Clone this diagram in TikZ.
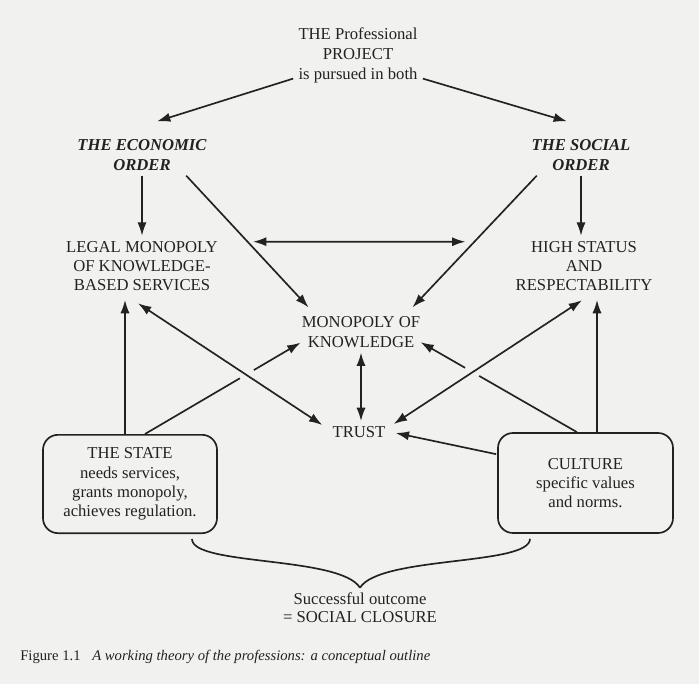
\documentclass[tikz,border=0pt]{standalone}
\usepackage{fontspec}
\setmainfont{Liberation Serif}
\usetikzlibrary{arrows.meta, positioning, calc}
\definecolor{pagegray}{RGB}{241, 241, 239}
\definecolor{inkgray}{RGB}{34, 34, 34}

\begin{document}
\begin{tikzpicture}[x=0.6pt, y=-0.6pt,
  lbl/.style={align=center, inner sep=3pt, text=inkgray, font=\fontsize{10}{11.6}\selectfont},
  orderlbl/.style={lbl, font=\fontsize{10}{11.6}\selectfont\bfseries\itshape},
  actorbox/.style={draw=inkgray, line width=1pt, rounded corners=9pt, align=center, inner sep=2pt, text=inkgray, font=\fontsize{10}{11.6}\selectfont},
  link/.style={draw=inkgray, line width=1pt},
  arr/.style={link, -{Latex[length=8pt,width=5.5pt]}},
  dbl/.style={link, {Latex[length=8pt,width=5.5pt]}-{Latex[length=8pt,width=5.5pt]}}
]
  \fill[pagegray] (0,0) rectangle (699,684);
  \useasboundingbox (0,0) rectangle (699,684);

  % top
  \node[lbl, font=\fontsize{10}{12}\selectfont] (project) at (358,55) {THE Professional\\PROJECT\\is pursued in both};
  \node[orderlbl] (econ) at (142,155) {THE ECONOMIC\\ORDER};
  \node[orderlbl] (social) at (581,155) {THE SOCIAL\\ORDER};

  % middle
  \node[lbl] (legal) at (142,266) {LEGAL MONOPOLY\\OF KNOWLEDGE-\\BASED SERVICES};
  \node[lbl] (status) at (584,266) {HIGH STATUS\\AND\\RESPECTABILITY};
  \node[lbl] (mok) at (361,332) {MONOPOLY OF\\KNOWLEDGE};
  \node[lbl] (trust) at (359,432) {TRUST};

  % boxes
  \node[actorbox, minimum width=104.4pt, minimum height=59pt] (state) at (130,484) {THE STATE\\needs services,\\grants monopoly,\\achieves regulation.};
  \node[actorbox, minimum width=105pt, minimum height=60pt] (culture) at (585.5,483) {CULTURE\\specific values\\and norms.};

  % bottom
  \node[lbl, font=\fontsize{10}{10.8}\selectfont] (outcome) at (360,608) {Successful outcome\\= SOCIAL CLOSURE};
  \node[anchor=base west, inner sep=0pt, text=inkgray, font=\fontsize{8.8}{11}\selectfont] (caption) at (20,660)
    {Figure 1.1\hspace{7pt}\textit{A working theory of the professions: a conceptual outline}};

  % project -> orders
  \draw[arr] (project.200) -- ([shift={(15,-13)}]econ.north);
  \draw[arr] (project.-20) -- ([shift={(-14,-13)}]social.north);

  % orders -> middle
  \draw[arr] (econ) -- (legal);
  \draw[arr] (social.south) -- (social.south |- status.north);
  \draw[arr] (econ.-25) -- ([shift={(12,-4)}]mok.north west);
  \draw[arr] (social.-155) -- ([shift={(-13,-4)}]mok.north east);

  % two-way links
  \draw[dbl] ([shift={(30,6)}]legal.north east) -- ([shift={(-45,6)}]status.north west);
  \draw[dbl] (mok.south) -- (mok.south |- trust.north);
  \draw[dbl] ([shift={(-4,7)}]legal.south) -- ([shift={(-5,-7)}]trust.west);
  \draw[dbl] ([shift={(3,-8)}]trust.east) -- ([shift={(-2,4)}]status.south);

  % the state
  \coordinate (sl) at ([shift={(-5,0)}]state.north);
  \draw[arr, shorten >=2.2pt] (sl) -- (sl |- legal.south);
  \coordinate (sm) at ([shift={(15,0)}]state.north);
  \coordinate (ms) at ([shift={(4,-10)}]mok.south west);
  \draw[link] (sm) -- ($(sm)!0.61!(ms)$);
  \draw[arr] ($(sm)!0.70!(ms)$) -- (ms);

  % culture
  \coordinate (cs) at ([shift={(11.5,0)}]culture.north);
  \draw[arr, shorten >=2.2pt] (cs) -- (cs |- status.south);
  \coordinate (cm) at ([shift={(-8.5,0)}]culture.north);
  \coordinate (mc) at ([shift={(-5,-10.5)}]mok.south east);
  \draw[link] (cm) -- ($(cm)!0.625!(mc)$);
  \draw[arr] ($(cm)!0.715!(mc)$) -- (mc);
  \draw[arr] ([shift={(-1,22)}]culture.north west) -- ([shift={(5,1)}]trust.east);

  % brace to outcome
  \draw[link] ([shift={(62,5)}]state.south) .. controls +(0,27) and +(-20,-32) .. (outcome.north);
  \draw[link] ([shift={(-55.5,5)}]culture.south) .. controls +(0,27) and +(20,-32) .. (outcome.north);
\end{tikzpicture}
\end{document}
